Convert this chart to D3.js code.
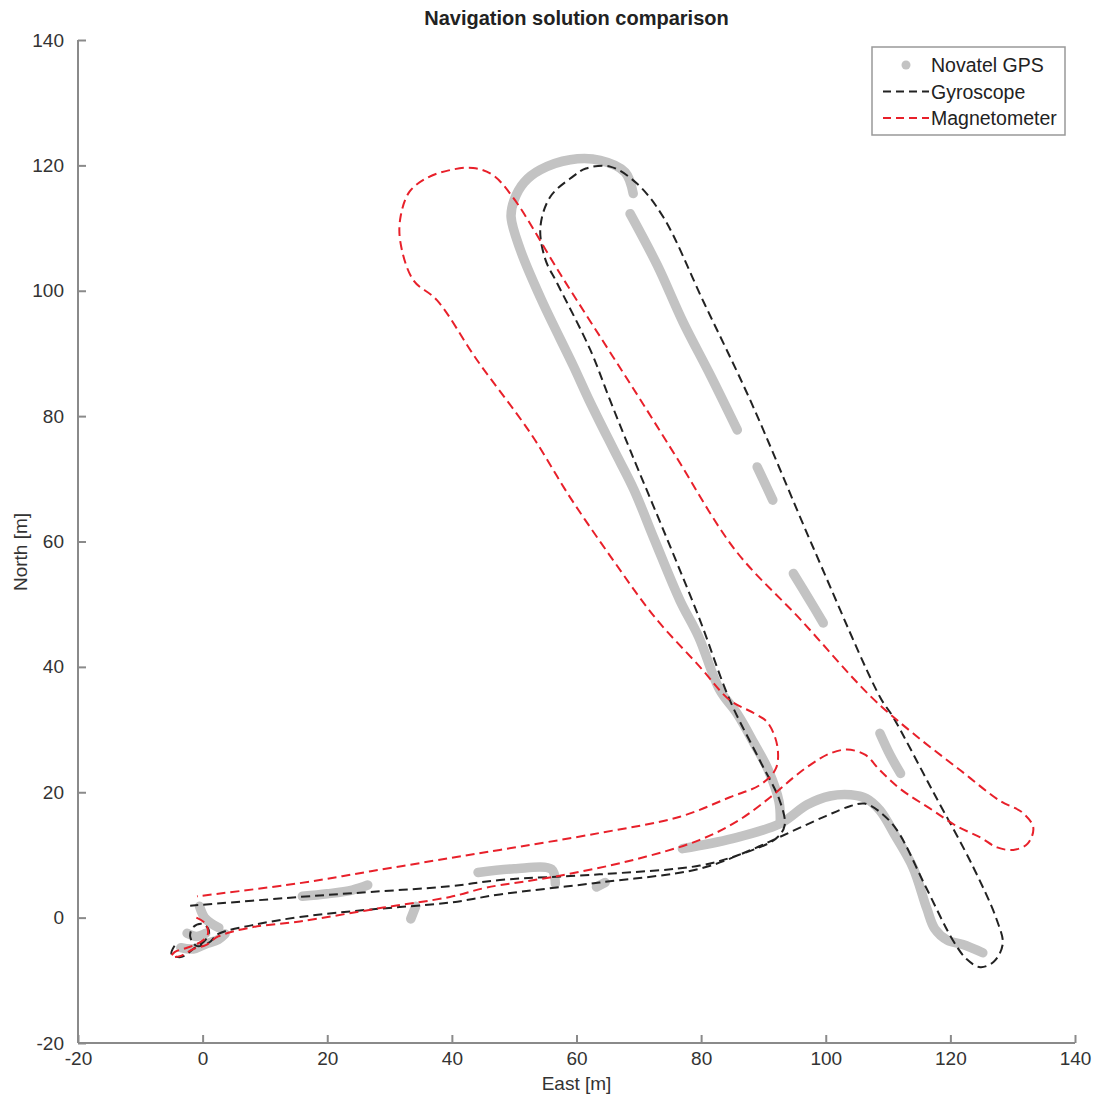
<!DOCTYPE html>
<html>
<head>
<meta charset="utf-8">
<script src="https://cdn.jsdelivr.net/npm/d3@7"></script>
<style>
  body { margin: 0; background: #fff; }
  svg { font-family: "Liberation Sans", Arial, sans-serif; }
  .axis path, .axis line { stroke: #8a8a8a; stroke-width: 2px; }
  .axis text { fill: #333; font-size: 19px; }
  .gps { fill: none; stroke: #c3c3c3; stroke-width: 9.5px; stroke-linecap: round; stroke-linejoin: round; }
  .gyro { fill: none; stroke: #222; stroke-width: 2px; stroke-dasharray: 9,5; }
  .mag { fill: none; stroke: #e8202a; stroke-width: 2px; stroke-dasharray: 9,5; }
</style>
</head>
<body>
<svg id="chart"></svg>
<script>
// axis ticks
const xTicks = [-20, 0, 20, 40, 60, 80, 100, 120, 140];
const yTicks = [-20, 0, 20, 40, 60, 80, 100, 120, 140];

// Novatel GPS, pieces of track (gaps where GPS dropped out)
const gpsOrigin = [[-3.5, -4.8], [-1.5, -5], [0.5, -4.2], [2.5, -3.5], [3.6, -2.6]];
const gpsOrigin2 = [[-0.5, 1.8], [0.3, 0], [1.5, -1], [2.6, -1.6]];
const gpsOrigin3 = [[-2.5, -2.5], [-1, -3], [0.5, -2.5]];
const gpsBottom1 = [[16, 3.4], [20, 3.8], [24, 4.4], [26.5, 5.2]];
const gpsBottom2 = [[33.4, -0.2], [34.2, 1.8]];
const gpsBottom3 = [[44.2, 7.2], [50, 7.8], [56, 7.7], [56.6, 5.4]];
const gpsBottom4 = [[63.2, 4.9], [64.6, 5.6]];
const gpsCorner = [[77, 11], [85, 12.6], [92.7, 15], [97, 18], [100.7, 19.4], [104, 19.6], [106.5, 19],
  [108.7, 17.1], [111.2, 13], [114, 8], [116.2, 1.5], [117.5, -1.8], [119.5, -3.6], [122, -4.3], [125.2, -5.6]];
const gpsRight1 = [[108.7, 29.4], [110.3, 26], [112, 23]];
const gpsRight2 = [[94.8, 54.9], [97.2, 51], [99.6, 47]];
const gpsRight3 = [[89, 71.9], [91.5, 66.6]];
const gpsRight4 = [[68.6, 112.3], [73, 104], [77.1, 95], [81.5, 86.5], [85.8, 77.8]];
const gpsTop = [[69.1, 115.5], [67.8, 118.9], [63.8, 120.8], [59, 120.9], [54.2, 119.3], [51.6, 117.3],
  [50, 114.5], [49.5, 111.8], [51, 106.5], [54.4, 98.5], [59.5, 88], [62, 82.6], [66, 74.6], [69.2, 68.3],
  [72.5, 60.3], [76.6, 50.6], [79.6, 44.8], [83, 36.3], [85.8, 32.5], [88.5, 27.8], [90.8, 23.5], [92.5, 18.5], [92.7, 15]];
const gpsTracks = [gpsOrigin, gpsOrigin2, gpsOrigin3, gpsBottom1, gpsBottom2, gpsBottom3, gpsBottom4,
  gpsCorner, gpsRight1, gpsRight2, gpsRight3, gpsRight4, gpsTop];

// Gyroscope dead reckoning
const gyroPath = [[-4.5, -4.5], [-5, -5.8], [-3.5, -6.3], [-1.5, -5], [0.5, -3.5], [1, -2], [0, -1],
  [-1.5, -1.5], [-2, -3], [-1, -4.5], [1, -4], [2.5, -2.6], [8, -1.2], [15.6, 0.1], [27, 1.3], [39.7, 2.4],
  [47.7, 3.7], [63.7, 5.6], [79.8, 7.8], [88, 10.8], [92.7, 12.9], [100, 16.2], [104, 17.8], [106.2, 18.2],
  [108.5, 17], [111.4, 14], [116, 5], [120.4, -3.6], [122.6, -6.6], [124.8, -7.9], [127, -7], [128.4, -4.2],
  [127.5, -0.5], [123.7, 8], [117, 20.5], [110.8, 32], [108.7, 35.2], [98, 59], [87.9, 82.5], [80.5, 98],
  [73.9, 111.8], [69.7, 117.1], [65.4, 119.8], [61.5, 119.5], [59.4, 118.2], [55.8, 115], [54.2, 110.1],
  [55, 105], [56.9, 101.2], [62.2, 90.6], [65.4, 82.5], [68.6, 74.6], [74.5, 60.5], [79.8, 47.5],
  [84.6, 34.7], [89.4, 25.1], [92.6, 18.7], [93.4, 14.7], [92, 12.6], [86, 10], [79.8, 8.3], [63.7, 6.9],
  [47.7, 6.0], [39.7, 5.0], [27, 4.1], [15.6, 3.3], [-2, 1.9]];

// Magnetometer dead reckoning
const magPath = [[-1, 0], [0.5, -1], [0.8, -2.8], [-0.5, -4], [-2.5, -4.8], [-4.5, -5.5], [-5, -6.2],
  [-3.5, -6.1], [-1.5, -5], [0.5, -4.4], [2.5, -3], [7.6, -1.6], [15.6, -0.6], [29, 1.6], [39.7, 3.3],
  [45.6, 4.8], [56.3, 6.5], [69.1, 9.2], [79.8, 12.4], [86, 15.5], [91.1, 19.2], [95, 22.5], [98, 24.7],
  [100.7, 26.2], [103.4, 26.8], [106.3, 26], [108.7, 23.5], [112, 20.5], [117.2, 17.1], [121, 14.6],
  [124.8, 12.8], [127.5, 11.2], [130.1, 10.8], [132.4, 11.8], [133.3, 14.4], [131.5, 16.8], [128, 18.6],
  [121.6, 23.5], [114, 29.4], [107.1, 35.4], [96, 47.5], [85.5, 58.6], [76, 73.5], [70.2, 82.7], [65.9, 89.4],
  [57.5, 102.5], [49.8, 114.9], [46.5, 118.5], [43.4, 119.6], [39.5, 119.2], [36, 118], [33.2, 115.8],
  [31.8, 112], [31.7, 108], [33.8, 101.7], [37.6, 98.5], [44, 89], [52.6, 77.3], [59, 67], [65.9, 57],
  [72.5, 48], [79.8, 40], [84.6, 34.7], [88.5, 32.6], [90.6, 31.2], [92.2, 27.5], [92, 23.8], [89.5, 21.2],
  [84.6, 19.2], [76.6, 16.1], [63.7, 13.5], [47.7, 10.8], [39.7, 9.5], [27, 7.4], [15.6, 5.5], [-0.9, 3.4]];

const legendItems = [
  {label: "Novatel GPS", type: "gps"},
  {label: "Gyroscope", type: "gyro"},
  {label: "Magnetometer", type: "mag"}
];

const MARGIN = {top: 40, right: 26, bottom: 54, left: 78};
const WIDTH = 1101 - MARGIN.left - MARGIN.right;
const HEIGHT = 1097 - MARGIN.top - MARGIN.bottom;

const svg = d3.select("#chart")
  .attr("width", 1101)
  .attr("height", 1097);

const g = svg.append("g")
  .attr("transform", "translate(" + MARGIN.left + "," + MARGIN.top + ")");

const xScale = d3.scaleLinear().domain([-20, 140]).range([0, WIDTH]);
const yScale = d3.scaleLinear().domain([-20, 140]).range([HEIGHT, 0]);

const line = d3.line()
  .x(d => xScale(d[0]))
  .y(d => yScale(d[1]))
  .curve(d3.curveCatmullRom.alpha(0.5));

// plain hyphen for negatives, like the original
const tickFmt = d => String(d);

// GPS first so the dashed lines sit on top
g.selectAll("path.gps")
  .data(gpsTracks)
  .join("path")
  .attr("class", "gps")
  .attr("d", line);

g.append("path").datum(gyroPath).attr("class", "gyro").attr("d", line);
g.append("path").datum(magPath).attr("class", "mag").attr("d", line);

// axes, ticks pointing inward, no box
g.append("g")
  .attr("class", "x axis")
  .attr("transform", "translate(0," + HEIGHT + ")")
  .call(d3.axisBottom(xScale).tickValues(xTicks).tickFormat(tickFmt).tickSizeInner(-8).tickSizeOuter(0).tickPadding(9))
  .call(s => s.select(".domain").attr("d", "M0,0H" + WIDTH));

g.append("g")
  .attr("class", "y axis")
  .call(d3.axisLeft(yScale).tickValues(yTicks).tickFormat(tickFmt).tickSizeInner(-8).tickSizeOuter(0).tickPadding(14))
  .call(s => s.select(".domain").attr("d", "M0," + HEIGHT + "V0"));

// title and labels
svg.append("text")
  .attr("x", MARGIN.left + WIDTH / 2)
  .attr("y", 25)
  .attr("text-anchor", "middle")
  .style("font-weight", "bold")
  .style("font-size", "20px")
  .style("fill", "#222")
  .text("Navigation solution comparison");

svg.append("text")
  .attr("x", MARGIN.left + WIDTH / 2)
  .attr("y", 1090)
  .attr("text-anchor", "middle")
  .style("font-size", "19px")
  .style("fill", "#333")
  .text("East [m]");

svg.append("text")
  .attr("transform", "translate(27,552) rotate(-90)")
  .attr("text-anchor", "middle")
  .style("font-size", "19px")
  .style("fill", "#333")
  .text("North [m]");

// legend
const legend = svg.append("g").attr("transform", "translate(872,47)");
legend.append("rect")
  .attr("width", 193)
  .attr("height", 88)
  .attr("fill", "#fff")
  .attr("stroke", "#999")
  .attr("stroke-width", 1.5);

const rows = legend.selectAll("g.row")
  .data(legendItems)
  .join("g")
  .attr("class", "row")
  .attr("transform", (d, i) => "translate(0," + (18 + i * 26.5) + ")");

rows.each(function(d) {
  const row = d3.select(this);
  if (d.type === "gps") {
    row.append("circle").attr("cx", 34).attr("cy", 0).attr("r", 4.5).attr("fill", "#c3c3c3");
  } else {
    row.append("line")
      .attr("class", d.type)
      .attr("x1", 11).attr("x2", 57).attr("y1", 0).attr("y2", 0)
      .style("stroke-dasharray", "8,5");
  }
});

rows.append("text")
  .attr("x", 59)
  .attr("y", 7)
  .style("font-size", "19.5px")
  .style("fill", "#222")
  .text(d => d.label);
</script>
</body>
</html>
